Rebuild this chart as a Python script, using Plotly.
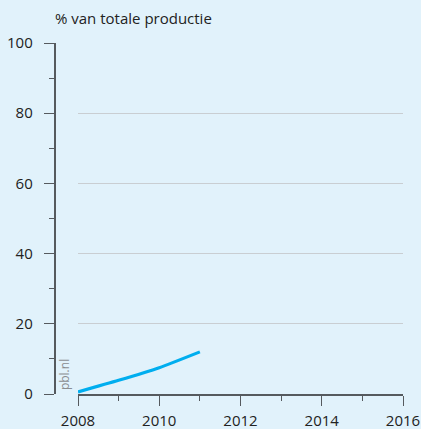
import plotly.graph_objects as go

years = [2008, 2009, 2010, 2011]
share = [0.6, 3.9, 7.5, 12.0]
x_ticks = [2008, 2010, 2012, 2014, 2016]
y_ticks = [0, 20, 40, 60, 80, 100]
title_text = "% van totale productie"
source_text = "pbl.nl"

W, H = 421, 429
BG = "#e1f2fb"
AX = "#555a5e"
FONT = "Open Sans"

fig = go.Figure()
fig.add_trace(go.Scatter(x=years, y=share, mode="lines",
                         line=dict(color="#00aeef", width=3.2, shape="spline", smoothing=0.6),
                         hoverinfo="skip", showlegend=False))

fig.update_layout(
    width=W, height=H,
    paper_bgcolor=BG, plot_bgcolor=BG,
    margin=dict(l=0, r=0, t=43, b=35, autoexpand=False),
    font=dict(family=FONT, size=15, color="#222"),
    xaxis=dict(domain=[78 / W, 403 / W], range=[2008, 2016], tickvals=x_ticks, automargin=False,
               showgrid=False, zeroline=False, showline=True, linecolor=AX, linewidth=1.5,
               ticks="outside", ticklen=10, tickwidth=1.2, tickcolor=AX,
               minor=dict(dtick=1, tick0=2008, ticks="outside", ticklen=5, tickwidth=1.2, tickcolor=AX),
               ticklabelstandoff=2, tickfont=dict(size=15, color="#222")),
    yaxis=dict(anchor="free", position=54.5 / W, range=[0, 100], tickvals=y_ticks, automargin=False,
               showgrid=True, gridcolor="#c9ced2", gridwidth=1, zeroline=False,
               showline=True, linecolor=AX, linewidth=1.5,
               ticks="outside", ticklen=10, tickwidth=1.2, tickcolor=AX,
               minor=dict(dtick=10, tick0=0, ticks="outside", ticklen=5, tickwidth=1.2, tickcolor=AX, showgrid=False),
               ticklabelstandoff=8, tickfont=dict(size=15, color="#222")),
    annotations=[
        dict(text=title_text, xref="paper", yref="paper", x=53 / W, y=1 + (43 - 18) / 351,
             xanchor="left", yanchor="middle", showarrow=False,
             font=dict(family=FONT, size=15, color="#222")),
        dict(text=source_text, xref="paper", yref="paper", x=64 / W, y=0.004,
             xanchor="center", yanchor="bottom", textangle=-90, showarrow=False,
             font=dict(family=FONT, size=12, color="#8a8d90")),
    ],
)

fig.write_html("out.html", config={"displayModeBar": False})
with open("out.html", "r", encoding="utf-8") as f:
    html = f.read()
html = html.replace("<head>", "<head><style>html,body{margin:0;padding:0;overflow:hidden;}</style>", 1)
with open("out.html", "w", encoding="utf-8") as f:
    f.write(html)
